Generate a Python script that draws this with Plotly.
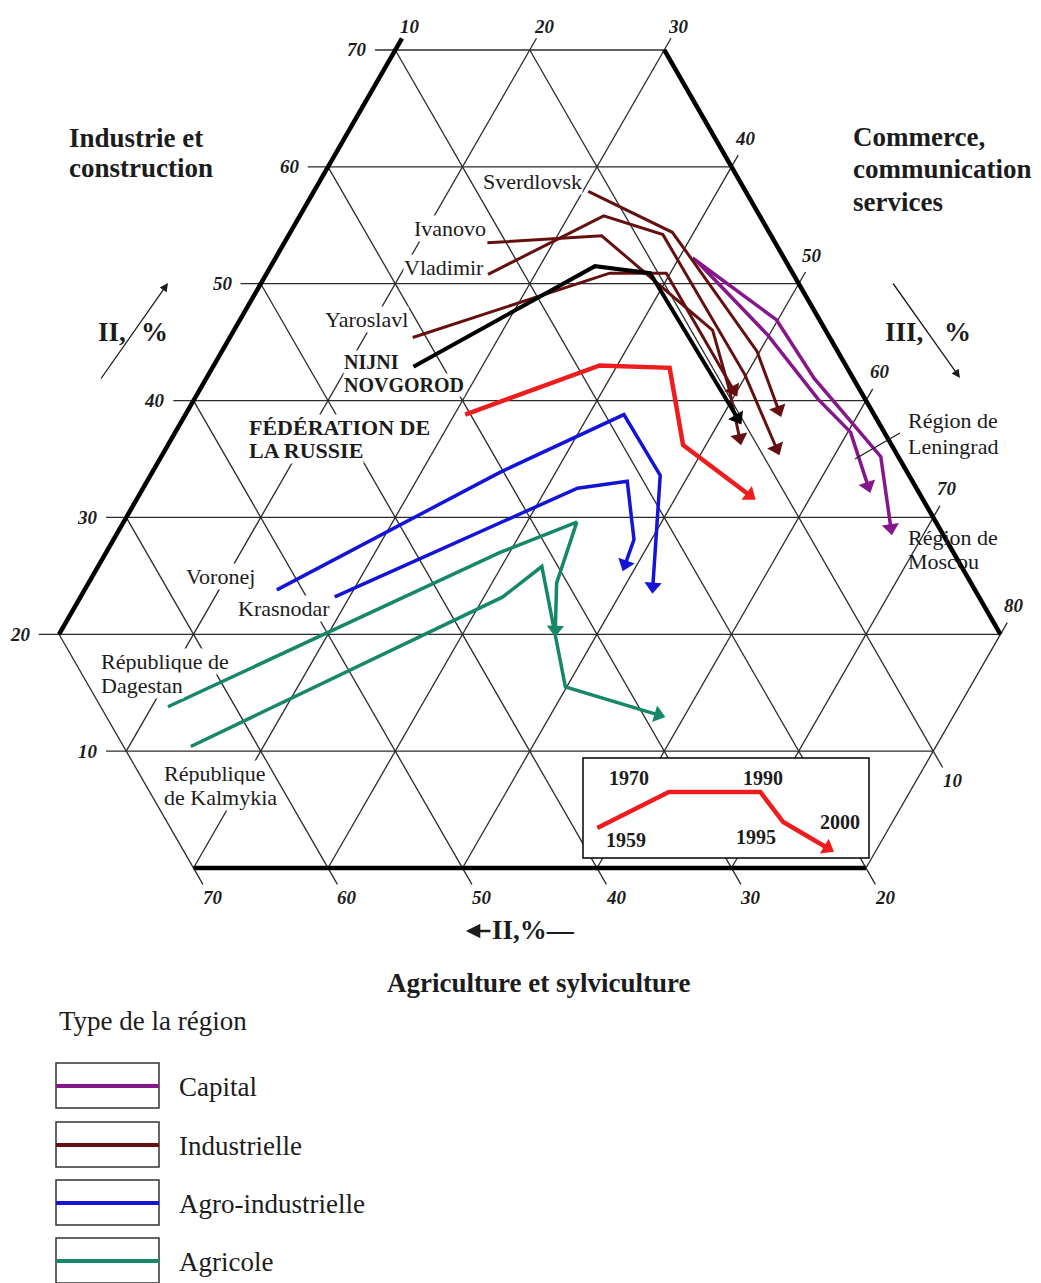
import plotly.graph_objects as go

W, H = 1041, 1283
FONT = "Liberation Serif"
INK = "#1c1c1c"
GRID = "#2b2b2b"

# Employment structure, % : II = industrie et construction, III = commerce/services.
# Agriculture et sylviculture is the remainder 100 - II - III.
YEARS = [1959, 1970, 1990, 1995, 2000]

MOSCOU_II = [52.2, 46.9, 41.9, 35.2, 29.1]
MOSCOU_III = [41.0, 49.9, 55.2, 63.5, 67.3]
LENINGRAD_II = [51.9, 45.6, 40.1, 37.3, 32.7]
LENINGRAD_III = [41.5, 49.9, 56.4, 60.2, 63.8]

SVERDLOVSK_II = [57.9, 54.4, 52.0, 44.2, 39.2]
SVERDLOVSK_III = [30.4, 38.4, 41.1, 49.8, 53.9]
IVANOVO_II = [53.5, 54.1, 46.0, 40.9, 36.8]
IVANOVO_III = [25.1, 33.3, 45.6, 49.4, 52.2]
VLADIMIR_II = [50.8, 55.8, 54.2, 42.2, 35.9]
VLADIMIR_III = [26.5, 32.6, 37.8, 49.9, 55.4]
YAROSLAVL_II = [45.4, 50.9, 50.9, 40.9]
YAROSLAVL_III = [23.6, 35.5, 39.7, 49.7]

NOVGOROD_II = [42.9, 51.5, 50.9, 38.5]
NOVGOROD_III = [24.9, 34.1, 38.5, 51.2]
RUSSIE_II = [38.8, 43.0, 42.8, 36.2, 31.9]
RUSSIE_III = [30.8, 38.7, 44.0, 48.3, 55.4]

VORONEJ_II = [23.8, 33.9, 38.8, 33.6, 24.1]
VORONEJ_III = [24.3, 35.9, 42.6, 47.9, 52.1]
KRASNODAR_II = [23.2, 32.5, 33.1, 28.1, 26.0]
KRASNODAR_III = [28.9, 42.3, 45.7, 48.7, 49.1]

DAGESTAN_II = [13.8, 27.0, 29.6, 24.4, 20.4]
DAGESTAN_III = [21.2, 39.3, 43.7, 44.8, 46.7]
KALMYKIA_II = [10.4, 23.2, 25.8, 15.5, 13.1]
KALMYKIA_III = [24.6, 41.4, 43.0, 49.9, 58.0]

# scale ticks (%)
II_TICKS = [10, 20, 30, 40, 50, 60, 70]
III_TICKS = [10, 20, 30, 40, 50, 60, 70, 80]
I_TICKS = [10, 20, 30, 40, 50, 60, 70]

# schematic key of the year sequence (inset box units 0-100)
KEY_X = [5, 30, 62, 70, 85.5]
KEY_Y = [30, 66, 66, 36, 10]

LEGEND_TYPES = ["Capital", "Industrielle", "Agro-industrielle", "Agricole"]

C_CAPITAL = "#85178a"
C_INDUS = "#651010"
C_AGRO_IND = "#1414d6"
C_AGRI = "#17876a"
C_RUSSIE = "#ee1c1c"
C_NN = "#000000"
LEGEND_COLORS = [C_CAPITAL, C_INDUS, C_AGRO_IND, C_AGRI]

SERIES = [
    ("Région de Moscou", MOSCOU_II, MOSCOU_III, C_CAPITAL, 3.5),
    ("Région de Leningrad", LENINGRAD_II, LENINGRAD_III, C_CAPITAL, 3.5),
    ("Sverdlovsk", SVERDLOVSK_II, SVERDLOVSK_III, C_INDUS, 3),
    ("Ivanovo", IVANOVO_II, IVANOVO_III, C_INDUS, 3),
    ("Vladimir", VLADIMIR_II, VLADIMIR_III, C_INDUS, 3),
    ("Yaroslavl", YAROSLAVL_II, YAROSLAVL_III, C_INDUS, 3),
    ("Voronej", VORONEJ_II, VORONEJ_III, C_AGRO_IND, 3.5),
    ("Krasnodar", KRASNODAR_II, KRASNODAR_III, C_AGRO_IND, 3.5),
    ("République de Dagestan", DAGESTAN_II, DAGESTAN_III, C_AGRI, 3.5),
    ("République de Kalmykia", KALMYKIA_II, KALMYKIA_III, C_AGRI, 3.5),
    ("Nijni Novgorod", NOVGOROD_II, NOVGOROD_III, C_NN, 4),
    ("Fédération de la Russie", RUSSIE_II, RUSSIE_III, C_RUSSIE, 4.5),
]

HEAD = 15  # arrowhead size at the 2000 end of each path


def to_xy(ii, iii):
    """Ternary (II, III) -> planar coordinates: x = III + II/2, y = II."""
    return [s + i / 2.0 for i, s in zip(ii, iii)], list(ii)


def px(x):
    return x / W


def py(y):
    return 1 - y / H


def head_marker(n, color):
    return dict(symbol="triangle-up", size=[0] * (n - 1) + [HEAD], opacity=1,
                angleref="previous", color=color, line=dict(width=0))


fig = go.Figure()
shapes = []
thick = []


def tern_seg(i0, s0, i1, s1, width=1.3, color=GRID, bucket=None):
    (bucket if bucket is not None else shapes).append(dict(
        type="line", xref="x", yref="y", layer="below",
        x0=s0 + i0 / 2.0, y0=i0, x1=s1 + i1 / 2.0, y1=i1,
        line=dict(color=color, width=width)))


EDGE = 4.5
TICK_II = 1.5
TICK_III = 1.0
TICK_I = 1.4

# lines of constant II (horizontal), with a tick on the left
for i in II_TICKS:
    s_left = max(10, 30 - i)
    s_right = min(100 - i, 80)
    tern_seg(i, s_left - TICK_II, i, s_right)
tern_seg(0, 30, 0, 80, EDGE, "black", thick)

# lines of constant III, tick at the upper end
for s in III_TICKS:
    i_lo = max(0, 30 - s)
    i_hi = min(70, 100 - s)
    if s == 10:
        tern_seg(i_lo, s, i_hi + TICK_III, s, EDGE, "black", thick)
    else:
        tern_seg(i_lo, s, i_hi + TICK_III, s)

# lines of constant agriculture, tick at the lower end
for a in [0] + I_TICKS:
    i_lo = max(0, 20 - a)
    i_hi = min(70, 90 - a)
    if a == 0:
        tern_seg(i_lo, 100 - i_lo, i_hi, 100 - i_hi, EDGE, "black", thick)
    else:
        st = i_lo - TICK_I
        tern_seg(st, 100 - a - st, i_hi, 100 - a - i_hi)

shapes += thick

# inset box (drawn on its own small axes so it covers the grid)
shapes.append(dict(type="rect", xref="x2", yref="y2", layer="below",
                   x0=0, x1=100, y0=0, y1=100,
                   line=dict(color="black", width=1.5), fillcolor="white"))

# trajectories
for name, ii, iii, color, width in SERIES:
    x, y = to_xy(ii, iii)
    fig.add_trace(go.Scatter(
        x=x, y=y, mode="lines+markers", name=name,
        line=dict(color=color, width=width),
        marker=head_marker(len(x), color),
        hoverinfo="skip", showlegend=False, cliponaxis=False))

# year key
fig.add_trace(go.Scatter(
    x=KEY_X, y=KEY_Y, xaxis="x2", yaxis="y2", mode="lines+markers",
    line=dict(color=C_RUSSIE, width=4.5),
    marker=head_marker(len(KEY_X), C_RUSSIE),
    hoverinfo="skip", showlegend=False, cliponaxis=False))

ann = []
TICKFONT = dict(family=FONT, size=19, color=INK)

for i in II_TICKS:
    s_left = max(10, 30 - i)
    ann.append(dict(text=f"<b><i>{i}</i></b>", xref="x", yref="y",
                    x=s_left - TICK_II + i / 2.0, y=i, xanchor="right", yanchor="middle",
                    xshift=-6, showarrow=False, font=TICKFONT))

for s in III_TICKS:
    i_hi = min(70, 100 - s) + TICK_III
    if s <= 30:
        dx, dy = 8, 12
    else:
        dx, dy = 7, 17
    ann.append(dict(text=f"<b><i>{s}</i></b>", xref="x", yref="y",
                    x=s + i_hi / 2.0, y=i_hi, xanchor="center", yanchor="middle",
                    xshift=dx, yshift=dy, showarrow=False, font=TICKFONT))

for a in I_TICKS:
    i_lo = max(0, 20 - a) - TICK_I
    ann.append(dict(text=f"<b><i>{a}</i></b>", xref="x", yref="y",
                    x=100 - a - i_lo + i_lo / 2.0, y=i_lo, xanchor="center", yanchor="middle",
                    xshift=10, yshift=-13, showarrow=False, font=TICKFONT))


def note(text, x, y, size=22, bold=False, anchor="left", bg="white"):
    t = f"<b>{text}</b>" if bold else text
    ann.append(dict(text=t, x=px(x), y=py(y), xref="paper", yref="paper",
                    xanchor=anchor, yanchor="middle", showarrow=False,
                    font=dict(family=FONT, size=size, color=INK),
                    bgcolor=bg, borderpad=0))


CLEAR = "rgba(0,0,0,0)"

# axis titles
note("Industrie et", 68, 138, 27, True, bg=CLEAR)
note("construction", 68, 168, 27, True, bg=CLEAR)
note("Commerce,", 852, 137, 27, True, bg=CLEAR)
note("communication", 852, 169, 27, True, bg=CLEAR)
note("services", 852, 202, 27, True, bg=CLEAR)
note("II,", 97, 332, 27, True, bg=CLEAR)
note("%", 140, 332, 27, True, bg=CLEAR)
note("III,", 884, 332, 27, True, bg=CLEAR)
note("%", 943, 332, 27, True, bg=CLEAR)
note("II,%—", 491, 930, 27, True, bg=CLEAR)
note("Agriculture et sylviculture", 538, 983, 27, True, "center", CLEAR)

# direction arrows of the scales
ann.append(dict(text="", x=px(168), y=py(283), xref="paper", yref="paper",
                showarrow=True, ax=-68, ay=97, arrowhead=2, arrowsize=1.3,
                arrowwidth=1.3, arrowcolor=INK))
ann.append(dict(text="", x=px(960), y=py(378), xref="paper", yref="paper",
                showarrow=True, ax=-68, ay=-96, arrowhead=2, arrowsize=1.3,
                arrowwidth=1.3, arrowcolor=INK))
ann.append(dict(text="", x=px(466), y=py(931), xref="paper", yref="paper",
                showarrow=True, ax=26, ay=0, arrowhead=2, arrowsize=1.1,
                arrowwidth=2.6, arrowcolor=INK))

# region names
note("Sverdlovsk", 482, 181)
note("Ivanovo", 413, 228)
note("Vladimir", 403, 267)
note("Yaroslavl", 324, 319)
note("NIJNI", 343, 362, 20, True)
note("NOVGOROD", 343, 385, 20, True)
note("FÉDÉRATION DE", 248, 427, 22, True)
note("LA RUSSIE", 248, 451, 22, True)
note("Voronej", 185, 576)
note("Krasnodar", 237, 608)
note("République de", 100, 661)
note("Dagestan", 100, 685)
note("République", 163, 773)
note("de Kalmykia", 163, 797)
note("Région de", 907, 420)
note("Leningrad", 907, 446)
note("Région de", 907, 537, bg=CLEAR)
note("Moscou", 907, 561, bg=CLEAR)

shapes.append(dict(type="line", xref="paper", yref="paper",
                   x0=px(900), y0=py(433), x1=px(855), y1=py(459),
                   line=dict(color=INK, width=1.2)))

# year labels of the key
for txt, kx, ky in [("1959", 15, 18), ("1970", 16, 80), ("1990", 63, 80),
                    ("1995", 60.5, 21), ("2000", 90, 36)]:
    ann.append(dict(text=f"<b>{txt}</b>", xref="x2", yref="y2", x=kx, y=ky,
                    xanchor="center", yanchor="middle", showarrow=False,
                    font=dict(family=FONT, size=20, color=INK)))

# legend of region types
note("Type de la région", 58, 1021, 27, bg=CLEAR)
box_tops = [1063, 1122, 1180, 1238]
for label, color, top in zip(LEGEND_TYPES, LEGEND_COLORS, box_tops):
    shapes.append(dict(type="rect", xref="paper", yref="paper",
                       x0=px(56), x1=px(159), y0=py(top), y1=py(top + 45),
                       line=dict(color="#333333", width=1.5), fillcolor="white"))
    shapes.append(dict(type="line", xref="paper", yref="paper",
                       x0=px(56), x1=px(159), y0=py(top + 23), y1=py(top + 23),
                       line=dict(color=color, width=4)))
    note(label, 178, top + 24, 27, bg=CLEAR)

fig.update_layout(
    width=W, height=H, autosize=False,
    margin=dict(l=0, r=0, t=0, b=0, pad=0),
    paper_bgcolor="white", plot_bgcolor="rgba(0,0,0,0)",
    xaxis=dict(range=[210 / 13.45, (W + 210) / 13.45], visible=False, domain=[0, 1]),
    yaxis=dict(range=[(868 - H) / 11.686, 868 / 11.686], visible=False, domain=[0, 1]),
    xaxis2=dict(range=[-1.5, 101.5], visible=False, anchor="y2",
                domain=[px(583 - 4.3), px(869 + 4.3)]),
    yaxis2=dict(range=[-3, 103], visible=False, anchor="x2",
                domain=[py(858 + 3), py(758 - 3)]),
    shapes=shapes,
    annotations=ann,
    showlegend=False,
)

fig.write_html("out.html", config={"displayModeBar": False})
